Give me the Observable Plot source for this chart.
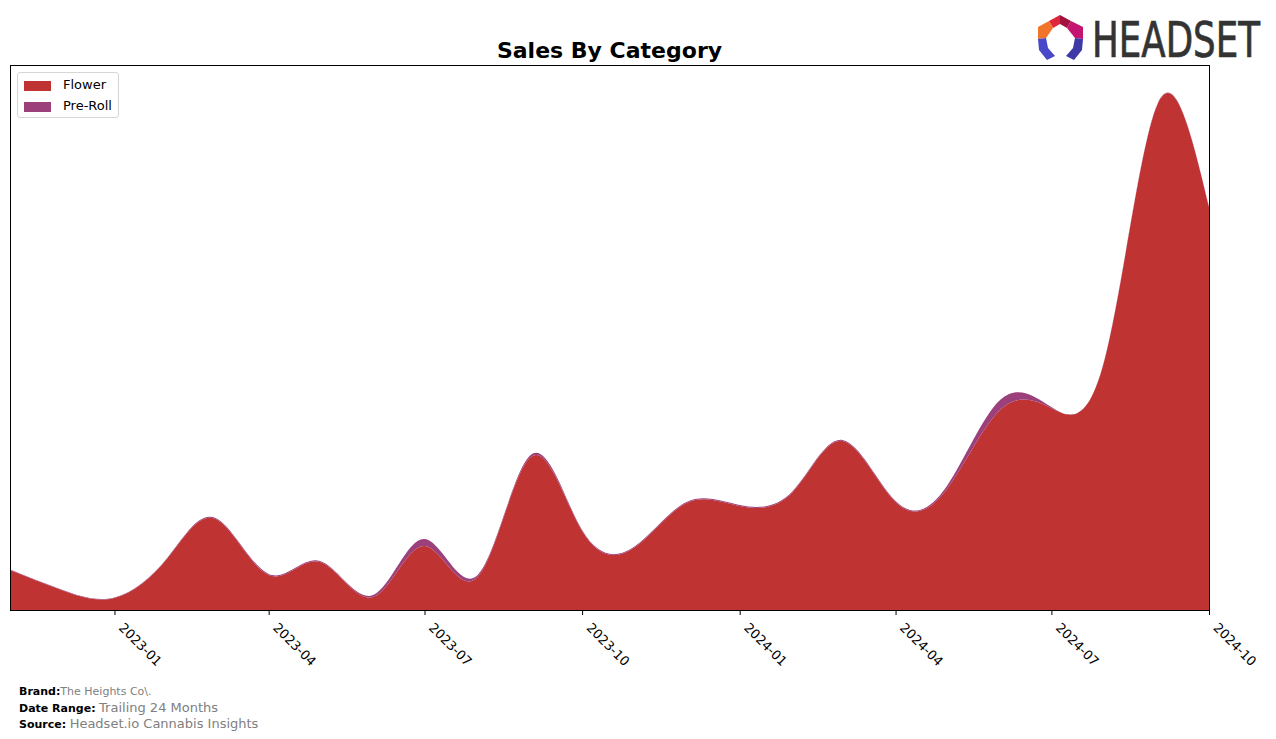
<!DOCTYPE html>
<html>
<head>
<meta charset="utf-8">
<script src="https://cdn.jsdelivr.net/npm/d3@7"></script>
<script src="https://cdn.jsdelivr.net/npm/@observablehq/plot@0.6"></script>
<style>
  html, body { margin: 0; padding: 0; background: #fff; }
  #wrap { position: relative; width: 1276px; height: 739px; overflow: hidden; font-family: "DejaVu Sans", sans-serif; }
  #title { position: absolute; left: 10px; width: 1199px; top: 38px; text-align: center; font-weight: bold; font-size: 22px; color: #000; }
  #chart { position: absolute; left: 0; top: 0; }
  #legend { position: absolute; left: 17px; top: 72px; width: 100px; height: 44px; border: 1px solid #d6d6d6; border-radius: 3px; background: rgba(255,255,255,0.9); font-size: 13px; }
  .li { position: absolute; left: 6px; height: 14px; line-height: 14px; }
  .sw { display: inline-block; width: 27px; height: 10px; vertical-align: middle; margin-right: 12px; }
  #footer { position: absolute; left: 19px; top: 684px; font-size: 11px; line-height: 15.5px; color: #000; }
  #footer b { font-weight: bold; }
  #footer .g { color: #808080; }
  #footer .g2 { color: #808080; font-size: 13px; }
  #logo { position: absolute; left: 1034px; top: 12px; }
  #logotext { position: absolute; left: 1092px; top: 15px; font-family: "DejaVu Sans Condensed", "DejaVu Sans", sans-serif; font-size: 50px; line-height: 50px; color: #333; -webkit-text-stroke: 0.7px #333; transform-origin: 0 0; white-space: nowrap; }
</style>
</head>
<body>
<div id="wrap">
  <div id="title">Sales By Category</div>
  <div id="chart"></div>
  <div id="legend"></div>
  <div id="footer"></div>
  <svg id="logo" width="54" height="54" viewBox="0 0 54 54">
    <polygon points="26,3 37,9 33,16 26,12" fill="#a3123f"/>
    <polygon points="26,3 15,9 19,16 26,12" fill="#e0263a"/>
    <polygon points="37,9 49,15 49,27 41,26 33,16" fill="#c21470"/>
    <polygon points="15,9 4,15 4,27 12,26 19,16" fill="#f0742a"/>
    <polygon points="4,27 12,26 14,36 21,44 13,48 5,38" fill="#4a47c8"/>
    <polygon points="49,27 41,26 39,36 32,44 40,48 48,38" fill="#3d3aa8"/>
  </svg>
  <div id="logotext">HEADSET</div>
</div>
<script>
const months = ["2022-11","2022-12","2023-01","2023-02","2023-03","2023-04","2023-05","2023-06","2023-07","2023-08","2023-09","2023-10","2023-11","2023-12","2024-01","2024-02","2024-03","2024-04","2024-05","2024-06","2024-07","2024-08","2024-09","2024-10"];
const flower  = [40, 20, 12, 52, 91, 35, 48, 13, 64, 33, 153, 79, 63, 107, 104, 118, 169, 108, 121, 200, 202, 250, 506, 403];
const preRoll = [0.5, 0.5, 0.5, 0.5, 1, 1, 1, 2, 7, 2, 2, 1, 1, 1, 1, 1, 1, 1, 3, 10, 1, 0.5, 0.5, 0.5];
const categories = ["Flower", "Pre-Roll"];
const colors = ["#c03333", "#9b407a"];
const tickLabels = ["2023-01","2023-04","2023-07","2023-10","2024-01","2024-04","2024-07","2024-10"];

const parse = d3.utcParse("%Y-%m");
const series = [flower, preRoll];
const rows = [];
categories.forEach((c, i) => months.forEach((m, j) => rows.push({date: parse(m), category: c, value: series[i][j]})));

const chart = Plot.plot({
  width: 1276,
  height: 680,
  marginTop: 65,
  marginBottom: 70,
  marginLeft: 10,
  marginRight: 67,
  style: {fontFamily: "DejaVu Sans, sans-serif", fontSize: "13px", color: "#000", background: "transparent"},
  x: {type: "utc", domain: [parse(months[0]), parse(months[months.length - 1])]},
  y: {domain: [0, 545], axis: null},
  color: {domain: categories, range: colors},
  marks: [
    Plot.areaY(rows, Plot.stackY({order: categories}, {x: "date", y: "value", fill: "category", z: "category", curve: "natural"})),
    Plot.frame({stroke: "#000", strokeWidth: 1}),
    Plot.axisX({ticks: tickLabels.map(parse), tickFormat: d3.utcFormat("%Y-%m"), tickRotate: 45, tickSize: 5, tickPadding: 3, stroke: "#000", label: null, fontSize: 13})
  ]
});
document.getElementById("chart").appendChild(chart);
// shift rotated tick labels so their top-left corner sits under the tick, as in the reference
const lab = chart.querySelector('g[aria-label="x-axis tick label"]');
if (lab) {
  const t = lab.getAttribute("transform") || "";
  lab.setAttribute("transform", (t + " translate(6,7)").trim());
}

// fit the logo word to the reference width
const lt = document.getElementById("logotext");
const w = lt.getBoundingClientRect().width;
if (w > 0) lt.style.transform = `scale(${168 / w}, 1)`;

const lg = document.getElementById("legend");
categories.forEach((c, i) => {
  const d = document.createElement("div");
  d.className = "li";
  d.style.top = (5 + i * 21) + "px";
  d.innerHTML = `<span class="sw" style="background:${colors[i]}"></span>${c}`;
  lg.appendChild(d);
});

document.getElementById("footer").innerHTML =
  `<div><b>Brand:</b><span class="g">The Heights Co\\.</span></div>` +
  `<div><b>Date Range:</b> <span class="g2">Trailing 24 Months</span></div>` +
  `<div><b>Source:</b> <span class="g2">Headset.io Cannabis Insights</span></div>`;
</script>
</body>
</html>
